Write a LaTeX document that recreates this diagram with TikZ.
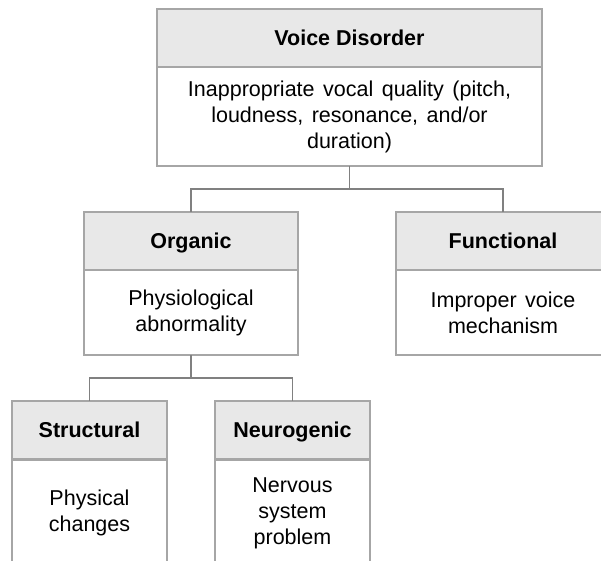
\documentclass[tikz,border=0pt]{standalone}
\usepackage{fontspec}
\setmainfont{Liberation Sans}
\definecolor{boxline}{HTML}{A6A6A6}
\definecolor{headfill}{HTML}{E8E8E8}
\definecolor{linkline}{HTML}{808080}
% widened gap between words in spaced-out lines
\newcommand{\wgap}{\hspace{8.5pt}}
\begin{document}
\begin{tikzpicture}[x=1pt,y=-1pt,
  every node/.style={inner sep=0pt, outer sep=0pt},
  boxbase/.style={draw=boxline, line width=2pt, align=center,
    font=\fontsize{21.5}{26}\selectfont},
  headbox/.style={boxbase, fill=headfill, minimum height=58pt,
    text height=15.5pt, text depth=0pt,
    font=\fontsize{21.5}{26}\selectfont\bfseries},
  bodybox/.style={boxbase, fill=white},
  link/.style={draw=linkline, line width=1.5pt}]
\useasboundingbox (0,0) rectangle (601,560);

% Voice Disorder
\node[headbox, minimum width=385pt] (vdh) at (349.5,38) {Voice Disorder};
\node[bodybox, minimum width=385pt, minimum height=99pt] (vdb) at (349.5,116.5)
  {Inappropriate\wgap vocal\wgap quality\wgap (pitch,\\loudness,\wgap resonance,\wgap and/or\\duration)};

% Organic
\node[headbox, minimum width=214pt] (orgh) at (191,241) {Organic};
\node[bodybox, minimum width=214pt, minimum height=85pt] (orgb) at (191,312.5)
  {Physiological\\abnormality};

% Functional
\node[headbox, minimum width=214pt] (funh) at (503,241) {Functional};
\node[bodybox, minimum width=214pt, minimum height=85pt] (funb) at (503,312.5)
  {Improper\wgap voice\\mechanism};

% Structural
\node[headbox, minimum width=155pt] (strh) at (89.5,430) {Structural};
\node[bodybox, minimum width=155pt, minimum height=106pt] (strb) at (89.5,513)
  {Physical\\changes};

% Neurogenic
\node[headbox, minimum width=155pt] (neuh) at (292.5,430) {Neurogenic};
\node[bodybox, minimum width=155pt, minimum height=106pt] (neub) at (292.5,513)
  {Nervous\\system\\problem};

% tree connectors
\draw[link] (vdb.south) -- ++(0,23) -| (orgh.north);
\draw[link] (vdb.south) -- ++(0,23) -| (funh.north);
\draw[link] (orgb.south) -- ++(0,23) -| (strh.north);
\draw[link] (orgb.south) -- ++(0,23) -| (neuh.north);
\end{tikzpicture}
\end{document}
